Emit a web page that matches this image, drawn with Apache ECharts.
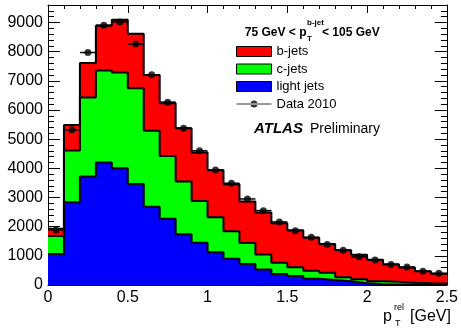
<!DOCTYPE html>
<html><head><meta charset="utf-8">
<script src="https://cdn.jsdelivr.net/npm/echarts@6/dist/echarts.min.js"></script>
<style>html,body{margin:0;padding:0;background:#fff}#c{width:461px;height:333px}</style>
</head><body><div id="c"></div>
<script>
// bin edges of the p_T^rel histogram [GeV]
const binEdges = [0,0.1,0.2,0.3,0.4,0.5,0.6,0.7,0.8,0.9,1.0,1.1,1.2,1.3,1.4,1.5,1.6,1.7,1.8,1.9,2.0,2.1,2.2,2.3,2.4,2.5];
// stacked template contributions per bin
const lightJets = [1064,2838,3717,4198,4004,3466,2687,2275,1740,1452,1122,900,720,530,380,305,215,170,125,60,30,20,15,10,10];
const cJets     = [618,1772,2711,3157,3282,3284,2598,2152,1805,1431,1201,940,720,515,380,305,275,250,145,135,95,90,65,50,45];
const bJets     = [250,880,1180,1533,1808,1864,1911,1808,1832,1658,1612,1615,1420,1437,1356,1270,1134,987,920,845,745,605,520,415,330];
// data points
const data2010  = [1890,5320,7970,8910,9020,8260,7207,6270,5377,4599,3946,3489,2950,2550,2162,1864,1636,1390,1195,965,858,700,615,470,400];

const FONT = 'Liberation Sans, Arial, Helvetica, sans-serif';

function stepData(vals){
  return binEdges.map((x,i)=>[x, vals[Math.min(i, vals.length-1)]]);
}
// cumulative stack (light at bottom, then c, then b)
const stackLight = lightJets.slice();
const stackC = lightJets.map((v,i)=>v + cJets[i]);
const stackB = stackC.map((v,i)=>v + bJets[i]);

const fills = [
  {name:'b-jets', vals:stackB, color:'#ff0000', z:2},
  {name:'c-jets', vals:stackC, color:'#00ff00', z:3},
  {name:'light jets', vals:stackLight, color:'#0000ff', z:4}
];

const series = [];
fills.forEach(f=>{
  series.push({
    type:'line', name:f.name, step:'end', data:stepData(f.vals),
    symbol:'none', showSymbol:false, color:f.color, itemStyle:{color:f.color},
    lineStyle:{width:0}, areaStyle:{color:f.color, opacity:1, origin:'start'}, z:f.z, silent:true
  });
});
fills.forEach(f=>{
  series.push({
    type:'line', name:f.name+' outline', step:'end', data:stepData(f.vals),
    symbol:'none', showSymbol:false, lineStyle:{color:'#000', width:2}, z:6, silent:true
  });
});
series.push({
  type:'custom', name:'Data 2010 err', z:7, silent:true,
  data: data2010.map((v,i)=>[binEdges[i], binEdges[i+1], v]),
  encode:{x:[0,1], y:2},
  renderItem:(params, api)=>{
    const a = api.coord([api.value(0), api.value(2)]);
    const b = api.coord([api.value(1), api.value(2)]);
    return {type:'line', shape:{x1:a[0], y1:a[1], x2:b[0], y2:a[1]}, style:{stroke:'#000', lineWidth:1.5}};
  }
});
series.push({
  type:'scatter', name:'Data 2010', z:8, symbolSize:7, color:'#000', itemStyle:{color:'#000'},
  data: data2010.map((v,i)=>[(binEdges[i]+binEdges[i+1])/2, v])
});

function xAx(pos, labels){
  return {type:'value', min:0, max:2.5, interval:0.5, position:pos,
    axisLine:{show:true, onZero:false, lineStyle:{color:'#000', width:1}},
    axisTick:{show:true, inside:true, length:8, lineStyle:{color:'#000'}},
    minorTick:{show:true, splitNumber:5, length:4, lineStyle:{color:'#000'}},
    splitLine:{show:false}, minorSplitLine:{show:false},
    axisLabel:{show:labels, color:'#000', fontSize:16, margin:5, fontFamily:FONT}};
}
function yAx(pos, labels){
  return {type:'value', min:0, max:9600, interval:1000, position:pos,
    axisLine:{show:true, onZero:false, lineStyle:{color:'#000', width:1}},
    axisTick:{show:true, inside:true, length:12, lineStyle:{color:'#000'}},
    minorTick:{show:true, splitNumber:5, length:6, lineStyle:{color:'#000'}},
    splitLine:{show:false}, minorSplitLine:{show:false},
    axisLabel:{show:labels, color:'#000', fontSize:16, margin:5, fontFamily:FONT, showMaxLabel:false,
      formatter:(v)=>String(v)}};
}

const chart = echarts.init(document.getElementById('c'), null, {renderer:'canvas'});
chart.setOption({
  animation:false,
  backgroundColor:'#fff',
  grid:{left:48, right:12, top:5, bottom:48, containLabel:false},
  xAxis:[xAx('bottom', true), xAx('top', false)],
  yAxis:[yAx('left', true), yAx('right', false)],
  legend:{
    orient:'vertical', left:236, top:45, padding:0, itemWidth:35, itemHeight:10, itemGap:4.5,
    textStyle:{fontSize:13, color:'#000', fontFamily:FONT},
    itemStyle:{borderColor:'#000', borderWidth:1},
    selectedMode:false,
    data:[
      {name:'b-jets', icon:'rect'},
      {name:'c-jets', icon:'rect'},
      {name:'light jets', icon:'rect'},
      {name:'Data 2010', icon:'path://M0,4.4H35V5.6H0Z M14,5a3.5,3.5 0 1,0 7,0a3.5,3.5 0 1,0 -7,0', itemStyle:{borderWidth:0}}
    ]
  },
  graphic:[
    {type:'text', style:{text:'75 GeV < p', x:306.5, y:32.5, align:'right', verticalAlign:'middle', font:'bold 12px '+FONT, fill:'#000'}},
    {type:'text', style:{text:'b-jet', x:307, y:23, align:'left', verticalAlign:'middle', font:'bold 8px '+FONT, fill:'#000'}},
    {type:'text', style:{text:'T', x:307, y:38.5, align:'left', verticalAlign:'middle', font:'bold 8px '+FONT, fill:'#000'}},
    {type:'text', style:{text:'< 105 GeV', x:322, y:32.5, align:'left', verticalAlign:'middle', font:'bold 12px '+FONT, fill:'#000'}},
    {type:'text', style:{text:'ATLAS', x:254, y:129, align:'left', verticalAlign:'middle', font:'italic bold 15px '+FONT, fill:'#000'}},
    {type:'text', style:{text:'Preliminary', x:310, y:129, align:'left', verticalAlign:'middle', font:'14px '+FONT, fill:'#000'}},
    {type:'text', style:{text:'p', x:383, y:316.5, align:'left', verticalAlign:'middle', font:'16px '+FONT, fill:'#000'}},
    {type:'text', style:{text:'rel', x:394, y:308, align:'left', verticalAlign:'middle', font:'9px '+FONT, fill:'#000'}},
    {type:'text', style:{text:'T', x:395, y:323.5, align:'left', verticalAlign:'middle', font:'9px '+FONT, fill:'#000'}},
    {type:'text', style:{text:'[GeV]', x:410, y:316.5, align:'left', verticalAlign:'middle', font:'16px '+FONT, fill:'#000'}}
  ],
  series:series
});
</script>
</body></html>
